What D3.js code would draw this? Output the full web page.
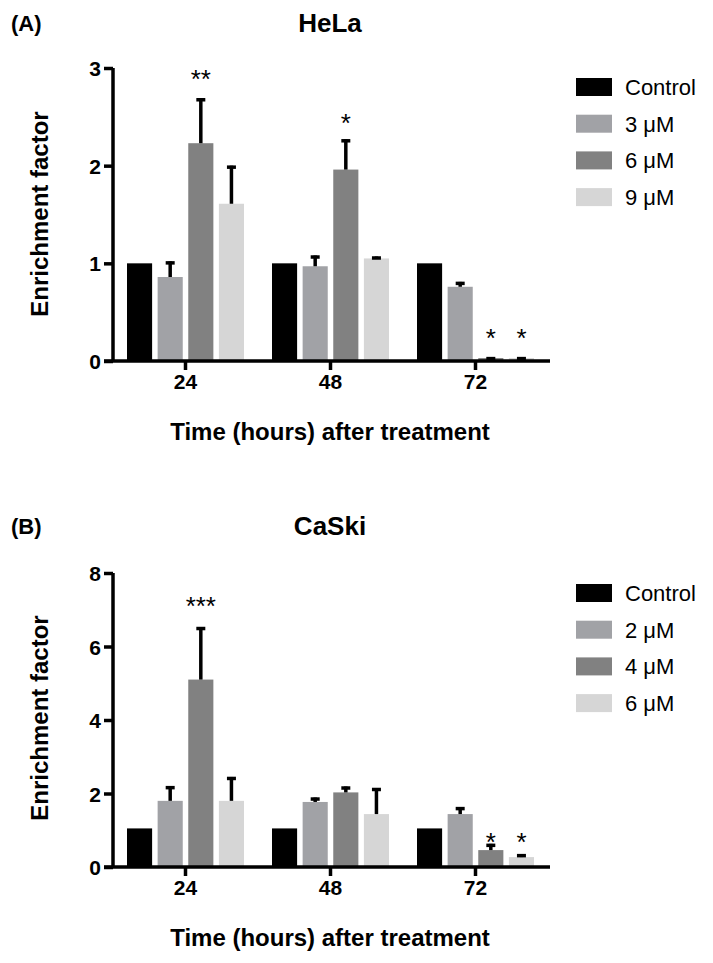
<!DOCTYPE html>
<html>
<head>
<meta charset="utf-8">
<script src="https://cdn.jsdelivr.net/npm/d3@7"></script>
<style>
  html, body { margin: 0; padding: 0; background: #fff; }
  svg { display: block; font-family: "Liberation Sans", Arial, sans-serif; }
</style>
</head>
<body>
<svg id="chart" width="713" height="963"></svg>
<script>
// ---------- data ----------
const timePoints = ["24", "48", "72"];
const xAxisTitle = "Time (hours) after treatment";
const yAxisTitle = "Enrichment factor";

// Panel A: HeLa
const helaSeries = ["Control", "3 μM", "6 μM", "9 μM"];
const helaControl = [1.0, 1.0, 1.0];
const hela3uM = [0.86, 0.97, 0.76];
const hela6uM = [2.23, 1.96, 0.03];
const hela9uM = [1.61, 1.05, 0.03];
const helaControlErr = [0, 0, 0];
const hela3uMErr = [0.16, 0.11, 0.05];
const hela6uMErr = [0.46, 0.31, 0.01];
const hela9uMErr = [0.39, 0.02, 0.01];
const helaYTicks = [0, 1, 2, 3];
// significance marks: [series index, time index, label, level]
const helaSig = [[2, 0, "**", 2.95], [2, 1, "*", 2.5], [2, 2, "*", 0.3], [3, 2, "*", 0.3]];

// Panel B: CaSki
const caskiSeries = ["Control", "2 μM", "4 μM", "6 μM"];
const caskiControl = [1.05, 1.05, 1.05];
const caski2uM = [1.8, 1.77, 1.44];
const caski4uM = [5.1, 2.03, 0.46];
const caski6uM = [1.8, 1.44, 0.27];
const caskiControlErr = [0, 0, 0];
const caski2uMErr = [0.4, 0.12, 0.19];
const caski4uMErr = [1.43, 0.16, 0.17];
const caski6uMErr = [0.65, 0.71, 0.08];
const caskiYTicks = [0, 2, 4, 6, 8];
const caskiSig = [[2, 0, "***", 7.27], [2, 2, "*", 0.84], [3, 2, "*", 0.84]];

const barColors = ["#000000", "#a1a2a6", "#818181", "#d6d6d6"];

// ---------- drawing ----------
const svg = d3.select("#chart");

function drawPanel(opt) {
  const g = svg.append("g");
  const x0 = d3.scaleBand().domain(timePoints).range([113, 548]).paddingInner(0).paddingOuter(0);
  const x1 = d3.scaleBand().domain(d3.range(opt.series.length)).range([-58.5, 58.5]).paddingInner(0.18);
  const y = d3.scaleLinear().domain([0, opt.yMax]).range([opt.bottom, opt.top]);

  // bars
  opt.values.forEach((vals, si) => {
    const cx = t => x0(t) + x0.bandwidth() / 2;
    g.selectAll(null).data(timePoints).enter().append("rect")
      .attr("x", (t) => cx(t) + x1(si))
      .attr("width", x1.bandwidth())
      .attr("y", (t, i) => y(vals[i]))
      .attr("height", (t, i) => y(0) - y(vals[i]))
      .attr("fill", barColors[si]);
    // error bars
    const errs = opt.errors[si];
    timePoints.forEach((t, i) => {
      if (!errs[i]) return;
      const xm = cx(t) + x1(si) + x1.bandwidth() / 2;
      g.append("line")
        .attr("x1", xm).attr("x2", xm)
        .attr("y1", y(vals[i])).attr("y2", y(vals[i] + errs[i]))
        .attr("stroke", "#000").attr("stroke-width", 3.5);
      g.append("line")
        .attr("x1", xm - 4.5).attr("x2", xm + 4.5)
        .attr("y1", y(vals[i] + errs[i]) + 1.5).attr("y2", y(vals[i] + errs[i]) + 1.5)
        .attr("stroke", "#000").attr("stroke-width", 3.5);
    });
  });

  // significance
  opt.sig.forEach(([si, ti, lab, lvl]) => {
    const xm = x0(timePoints[ti]) + x0.bandwidth() / 2 + x1(si) + x1.bandwidth() / 2;
    g.append("text")
      .attr("x", xm).attr("y", y(lvl) + 15)
      .attr("text-anchor", "middle")
      .attr("font-size", 26)
      .text(lab);
  });

  // y axis
  const yAxis = d3.axisLeft(y).tickValues(opt.yTicks).tickSize(9).tickPadding(3).tickFormat(d3.format("d"));
  const ya = g.append("g").attr("transform", "translate(113,0)").call(yAxis);
  ya.select(".domain").attr("stroke-width", 3.5).attr("d", `M0,${opt.top}V${opt.bottom}`);
  ya.selectAll(".tick line").attr("stroke-width", 3.5);
  ya.selectAll(".tick text").attr("font-size", 21).attr("font-weight", "bold").attr("fill", "#000")
    .attr("font-family", "Liberation Sans, Arial, sans-serif").attr("dy", "0.36em");

  // x axis
  const xAxis = d3.axisBottom(x0).tickSize(9).tickPadding(4);
  const xa = g.append("g").attr("transform", `translate(0,${opt.bottom})`).call(xAxis);
  xa.select(".domain").attr("stroke-width", 3.5).attr("d", "M104,0H550");
  xa.selectAll(".tick line").attr("stroke-width", 3.5);
  xa.selectAll(".tick text").attr("font-size", 21).attr("font-weight", "bold").attr("fill", "#000")
    .attr("font-family", "Liberation Sans, Arial, sans-serif");

  // axis titles
  g.append("text")
    .attr("x", 330).attr("y", opt.bottom + 79)
    .attr("text-anchor", "middle").attr("font-size", 24).attr("font-weight", "bold")
    .text(xAxisTitle);
  g.append("text")
    .attr("transform", `translate(48,${opt.yLabelCenter}) rotate(-90)`)
    .attr("text-anchor", "middle").attr("font-size", 24).attr("font-weight", "bold")
    .text(yAxisTitle);

  // panel title and letter
  g.append("text").attr("x", 330).attr("y", opt.titleY)
    .attr("text-anchor", "middle").attr("font-size", 26).attr("font-weight", "bold")
    .text(opt.title);
  g.append("text").attr("x", 11).attr("y", opt.titleY - 1)
    .attr("font-size", 22).attr("font-weight", "bold")
    .text(opt.letter);

  // legend
  opt.series.forEach((s, i) => {
    const cy = opt.legendTop + i * 36.7;
    g.append("rect").attr("x", 576).attr("y", cy - 9).attr("width", 36).attr("height", 18).attr("fill", barColors[i]);
    g.append("text").attr("x", 625).attr("y", cy + 8).attr("font-size", 22).text(s);
  });
}

drawPanel({
  title: "HeLa", letter: "(A)", titleY: 32,
  series: helaSeries,
  values: [helaControl, hela3uM, hela6uM, hela9uM],
  errors: [helaControlErr, hela3uMErr, hela6uMErr, hela9uMErr],
  sig: helaSig, yTicks: helaYTicks, yMax: 3,
  top: 68, bottom: 361, yLabelCenter: 214, legendTop: 87
});

drawPanel({
  title: "CaSki", letter: "(B)", titleY: 535,
  series: caskiSeries,
  values: [caskiControl, caski2uM, caski4uM, caski6uM],
  errors: [caskiControlErr, caski2uMErr, caski4uMErr, caski6uMErr],
  sig: caskiSig, yTicks: caskiYTicks, yMax: 8,
  top: 573, bottom: 867, yLabelCenter: 718, legendTop: 593
});
</script>
</body>
</html>
